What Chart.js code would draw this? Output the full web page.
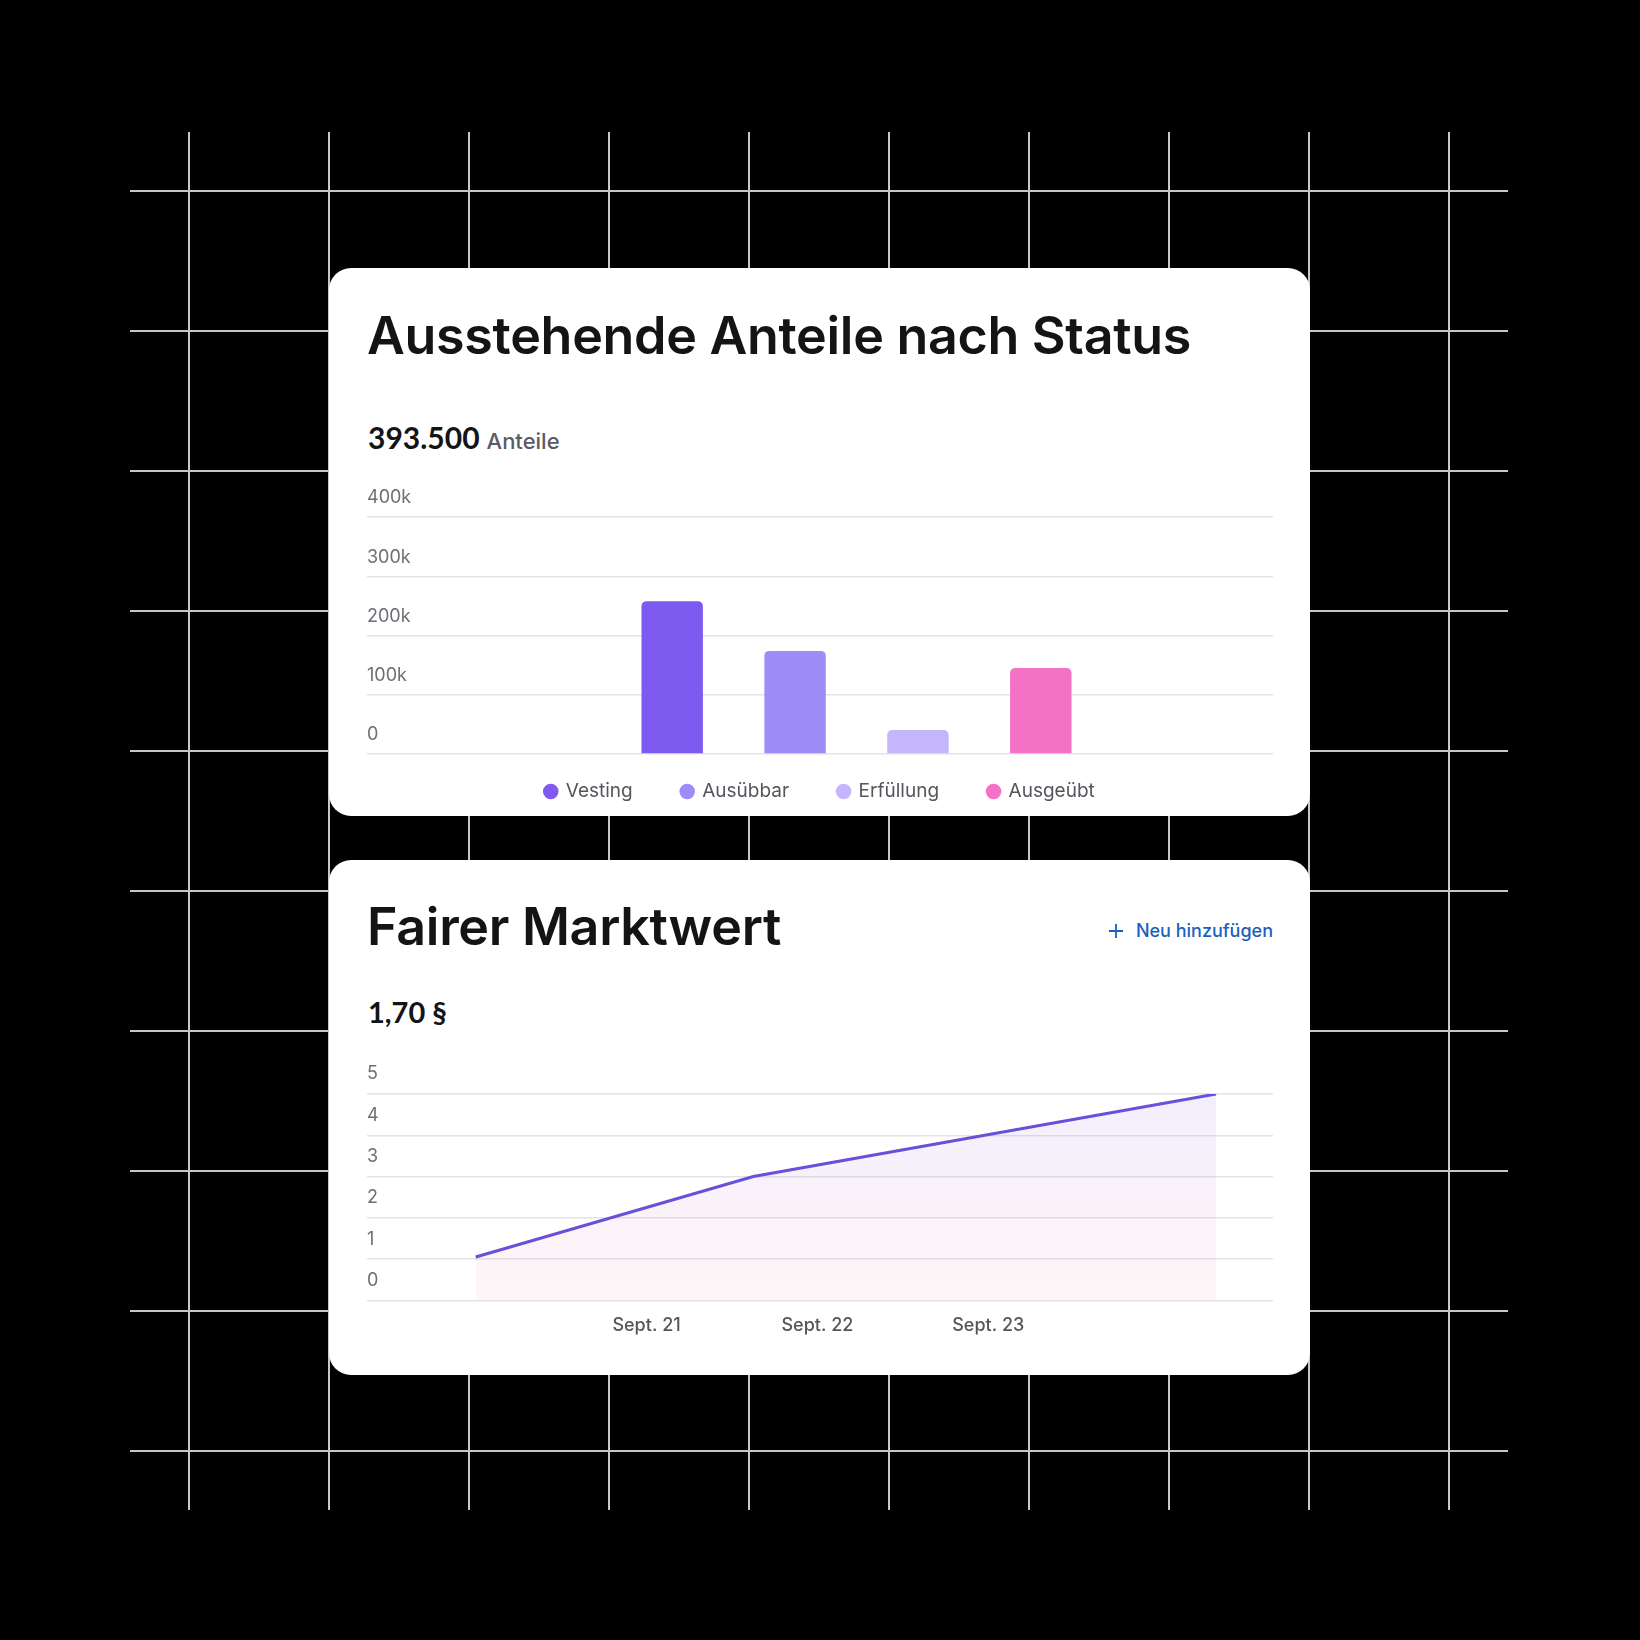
<!DOCTYPE html>
<html lang="de">
<head>
<meta charset="utf-8">
<title>Anteile und Marktwert</title>
<script src="https://cdn.jsdelivr.net/npm/chart.js@4.4.1/dist/chart.umd.min.js"></script>
<style>
  html, body { margin: 0; padding: 0; }
  body { width: 1640px; height: 1640px; background: #000; position: relative; overflow: hidden; font-family: Inter, sans-serif; }
  #raster {
    position: absolute; left: 130px; top: 132px; width: 1378px; height: 1378px;
    background-image:
      linear-gradient(to right, #c6c6cc 2px, transparent 2px),
      linear-gradient(to bottom, #c6c6cc 2px, transparent 2px);
    background-size: 140px 100%, 100% 140px;
    background-position: 58px 0, 0 58px;
  }
  .karte { position: absolute; left: 329px; width: 981px; background: #fff; border-radius: 22px; }
  .titel { position: absolute; left: 367px; font-family: Inter, sans-serif; font-weight: 600; font-size: 52px; line-height: 60px; letter-spacing: -0.3px; color: #141416; white-space: nowrap; }
  .kennzahl { position: absolute; left: 368px; font-family: Lato, sans-serif; font-weight: 700; font-size: 29px; line-height: 34px; color: #141416; white-space: nowrap; }
  .kennzahl.gross { font-size: 30px; }
  .kennzahl span { font-family: Inter, sans-serif; font-weight: 500; font-size: 22px; color: #5b5b63; margin-left: 7px; }
  .neu { position: absolute; right: 367px; top: 918px; font-size: 18px; line-height: 26px; font-weight: 500; color: #1d5fbd; white-space: nowrap; }
  .neu svg { vertical-align: -2px; margin-right: 12px; }
  .box { position: absolute; left: 367px; width: 906px; }
</style>
</head>
<body>
<div id="raster"></div>
<div class="karte" style="top:268px;height:548px"></div>
<div class="karte" style="top:860px;height:515px"></div>

<div class="titel" style="top:306px">Ausstehende Anteile nach Status</div>
<div class="kennzahl gross" style="top:420px">393.500<span>Anteile</span></div>
<div class="box" style="top:477px;height:355px"><canvas id="anteile"></canvas></div>

<div class="titel" style="top:897px">Fairer Marktwert</div>
<div class="neu"><svg width="16" height="16" viewBox="0 0 16 16"><path d="M8 1v14M1 8h14" stroke="#1d5fbd" stroke-width="1.8" fill="none"/></svg>Neu hinzufügen</div>
<div class="kennzahl" style="top:995px">1,70 §</div>
<div class="box" style="top:1054px;height:296px"><canvas id="marktwert"></canvas></div>

<script>
// Anteile nach Status
const statusNamen = ["Vesting", "Ausübbar", "Erfüllung", "Ausgeübt"];
const statusWerte = [258000, 174000, 40500, 145000];
const statusFarben = ["#7f5af0", "#9e8cf8", "#c4b5fd", "#f472c6"];
const anteileTicks = [0, 100000, 200000, 300000, 400000];
const anteileTickLabels = ["0", "100k", "200k", "300k", "400k"];

// Fairer Marktwert (x = Monate seit Jan. 2020)
const fmvMonate = [8, 27.5, 60];
const fmvWerte = [1.05, 3.0, 5.0];
const fmvTicks = [0, 1, 2, 3, 4, 5];
const datumTicks = [20, 32, 44];
const datumLabels = ["Sept. 21", "Sept. 22", "Sept. 23"];

const grau = "#e3e3e8";
const tickFarbe = "#6e6e76";

// legende etwas nach oben schieben
const legendeHoch = {
  id: "legendeHoch",
  afterLayout(chart, args, opts) {
    if (chart.legend && opts.by) {
      chart.legend.top -= opts.by;
      chart.legend.bottom -= opts.by;
    }
  }
};

new Chart(document.getElementById("anteile"), {
  type: "bar",
  data: {
    labels: [""],
    datasets: statusNamen.map((name, i) => ({
      label: name,
      data: [statusWerte[i]],
      backgroundColor: statusFarben[i],
      borderRadius: { topLeft: 5, topRight: 5 },
      borderSkipped: "start",
      barPercentage: 0.5,
      categoryPercentage: 0.59
    }))
  },
  plugins: [legendeHoch],
  options: {
    responsive: true,
    maintainAspectRatio: false,
    animation: false,
    layout: { padding: { top: 40, left: 0, right: 0, bottom: 0 } },
    plugins: {
      legendeHoch: { by: 21 },
      tooltip: { enabled: false },
      legend: {
        position: "bottom",
        labels: {
          usePointStyle: true,
          pointStyle: "circle",
          boxWidth: 11,
          boxHeight: 11,
          padding: 49,
          color: "#55555c",
          font: { family: "Inter", size: 19 }
        }
      }
    },
    scales: {
      x: { display: false },
      y: {
        min: 0,
        max: 400000,
        afterBuildTicks: s => { s.ticks = anteileTicks.map(v => ({ value: v })); },
        afterFit: s => { s.width = 73; },
        ticks: {
          callback: (v, i) => anteileTickLabels[i],
          crossAlign: "far",
          labelOffset: -19,
          padding: 0,
          color: tickFarbe,
          font: { family: "Inter", size: 18 }
        },
        grid: { color: grau, lineWidth: 1.5, tickLength: 73 },
        border: { display: false }
      }
    }
  }
});

new Chart(document.getElementById("marktwert"), {
  type: "line",
  data: {
    datasets: [{
      label: "Fairer Marktwert",
      data: fmvMonate.map((m, i) => ({ x: m, y: fmvWerte[i] })),
      borderColor: "#6a50d8",
      borderWidth: 3,
      pointRadius: 0,
      tension: 0,
      fill: "origin",
      backgroundColor: ctx => {
        const area = ctx.chart.chartArea;
        if (!area) return "rgba(124,92,240,0.08)";
        const g = ctx.chart.ctx.createLinearGradient(0, area.top, 0, area.bottom);
        g.addColorStop(0, "rgba(124,92,240,0.10)");
        g.addColorStop(1, "rgba(246,130,150,0.08)");
        return g;
      }
    }]
  },
  options: {
    responsive: true,
    maintainAspectRatio: false,
    animation: false,
    layout: { padding: { top: 40, left: 0, right: 0, bottom: 0 } },
    plugins: { legend: { display: false }, tooltip: { enabled: false } },
    scales: {
      x: {
        type: "linear",
        min: 5,
        max: 64,
        afterBuildTicks: s => { s.ticks = datumTicks.map(v => ({ value: v })); },
        ticks: {
          callback: (v, i) => datumLabels[i],
          padding: 14,
          maxRotation: 0,
          color: "#55555c",
          font: { family: "Inter", size: 18, weight: 500 }
        },
        grid: { display: false, drawTicks: false },
        border: { display: false }
      },
      y: {
        min: 0,
        max: 5,
        afterBuildTicks: s => { s.ticks = fmvTicks.map(v => ({ value: v })); },
        afterFit: s => { s.width = 66; },
        ticks: {
          crossAlign: "far",
          labelOffset: -20,
          padding: 0,
          color: tickFarbe,
          font: { family: "Inter", size: 18 }
        },
        grid: { color: grau, lineWidth: 1.5, tickLength: 66 },
        border: { display: false }
      }
    }
  }
});
</script>
</body>
</html>
